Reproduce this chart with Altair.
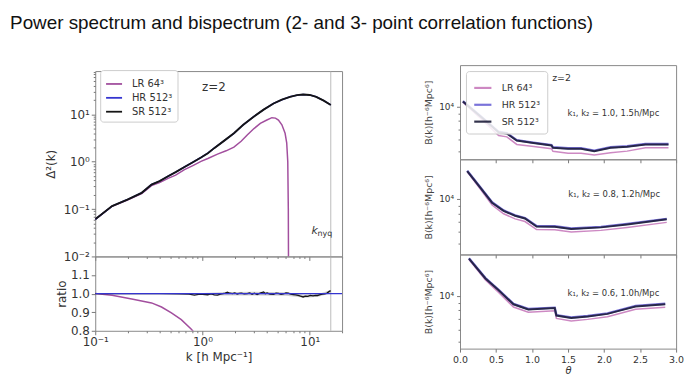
import altair as alt
import pandas as pd

FONT = "DejaVu Sans"
TITLE = "Power spectrum and bispectrum (2- and 3- point correlation functions)"
SERIES = ["LR 64³", "HR 512³", "SR 512³"]
LEFT_COLORS = ["#a24f9e", "#3535d0", "#151515"]
RIGHT_COLORS = ["#c87cbc", "#6c64d6", "#1e1e3a"]

# ---------------- power spectrum Δ²(k) ----------------
sr_k = [0.100, 0.1435, 0.1995, 0.271, 0.335, 0.398, 0.4775, 0.562, 0.679, 0.813, 0.968, 1.122, 1.285,
        1.585, 1.963, 2.399, 3.0, 3.715, 4.592, 5.495, 6.546, 7.586, 8.670, 10.0, 11.48, 13.49, 15.7]
sr_d = [0.0608, 0.1156, 0.1585, 0.2203, 0.3296, 0.389, 0.492, 0.603, 0.774, 0.977, 1.23, 1.514, 1.936,
        2.754, 3.98, 6.03, 8.91, 12.59, 16.98, 20.42, 23.44, 25.41, 26.30, 25.70, 23.44, 19.50, 15.8]
hr_k = [0.100, 0.1435, 0.1995, 0.271, 0.335, 0.398, 0.4775, 0.562, 0.679, 0.813, 0.968, 1.122, 1.285,
        1.585, 1.963, 2.399, 3.0, 3.715, 4.592, 5.495, 6.546, 7.586, 8.670, 10.0, 11.48, 13.49, 15.7]
hr_d = [0.0608, 0.1156, 0.1585, 0.2203, 0.3296, 0.389, 0.492, 0.603, 0.774, 0.977, 1.23, 1.514, 1.936,
        2.754, 3.98, 6.03, 8.91, 12.59, 16.98, 20.42, 23.44, 25.41, 26.30, 25.70, 23.44, 19.50, 15.8]
lr_k = [0.100, 0.1435, 0.1995, 0.271, 0.335, 0.398, 0.4775, 0.562, 0.679, 0.813, 0.968, 1.122, 1.380,
        1.660, 1.963, 2.291, 2.612, 3.020, 3.459, 3.981, 4.436, 4.786, 5.105, 5.495, 5.888, 6.095, 6.237,
        6.310, 6.353]
lr_d = [0.0607, 0.1146, 0.155, 0.213, 0.313, 0.362, 0.445, 0.52, 0.679, 0.83, 1.014, 1.17, 1.449,
        1.70, 2.032, 2.70, 3.68, 5.01, 6.46, 7.59, 8.51, 8.32, 7.59, 6.03, 3.98, 2.51, 1.0,
        0.1, 0.001]
K_NYQ = [15.7]

# ---------------- ratio panel ----------------
lrr_k = [0.100, 0.1435, 0.219, 0.335, 0.415, 0.513, 0.634, 0.783, 0.839, 0.87]
lrr_v = [1.0, 0.991, 0.971, 0.95, 0.928, 0.896, 0.86, 0.81, 0.79, 0.76]
hrr_k = [0.1, 20.0]
hrr_v = [1.0, 1.0]
srr_k = [0.1, 0.2, 0.4, 0.6, 0.75, 0.84, 0.92, 1.0, 1.117, 1.2,
         1.29, 1.38, 1.47, 1.55, 1.63, 1.706, 1.8, 1.9, 2.0, 2.109,
         2.2, 2.3, 2.45, 2.612, 2.75, 2.9, 3.05, 3.228, 3.45, 3.715,
         3.85, 4.0, 4.25, 4.592, 4.85, 5.1, 5.4, 5.675, 6.0, 6.3,
         6.65, 7.015, 7.4, 7.8, 8.2, 8.67, 9.1, 9.6, 10.1, 10.72,
         11.3, 11.8, 12.5, 13.18, 13.8, 14.5, 15.28, 15.7]
srr_v = [1.0, 1.0, 1.0, 0.999, 0.997, 0.992, 0.996, 0.996, 0.994, 0.998,
         0.993, 0.992, 0.997, 1.0, 1.003, 1.008, 1.002, 1.0, 1.004, 0.998,
         1.001, 1.003, 0.999, 1.0, 1.004, 0.997, 1.002, 0.995, 1.003, 1.009,
         1.0, 1.004, 0.997, 0.996, 1.003, 1.001, 0.996, 0.998, 1.004, 1.002,
         0.997, 0.995, 0.993, 0.99, 0.986, 0.982, 0.986, 0.985, 0.99, 0.988,
         0.991, 0.99, 0.995, 0.997, 0.999, 1.003, 1.013, 1.015]
band_k = [0.8, 1.5, 3.0, 6.0, 9.0, 12.0, 15.7]
band_lo = [0.994, 0.99, 0.99, 0.988, 0.978, 0.983, 1.002]
band_hi = [1.0, 1.008, 1.01, 1.008, 0.994, 0.998, 1.02]

# ---------------- bispectrum panels ----------------
top_t = [0.04, 0.31, 0.536, 0.65, 0.788, 0.994, 1.27, 1.29, 1.50, 1.68, 1.864, 2.09, 2.32, 2.574, 2.894]
top_sr = [10800, 8375, 6714, 6577, 5902, 5702, 5470, 5284, 5200, 5200, 5012, 5284, 5358, 5559, 5559]
top_hr = [10850, 8420, 6760, 6620, 5940, 5740, 5510, 5320, 5240, 5240, 5050, 5320, 5400, 5600, 5600]
top_lr = [10700, 8130, 6383, 6250, 5559, 5408, 5200, 5000, 4842, 4842, 4713, 4887, 5012, 5284, 5284]

mid_t = [0.10, 0.284, 0.445, 0.605, 0.765, 0.902, 1.063, 1.315, 1.544, 1.956, 2.32, 2.87]
mid_sr = [15380, 11885, 9441, 8318, 7709, 7396, 6531, 6501, 6281, 6442, 6745, 7295]
mid_hr = [15450, 11950, 9500, 8370, 7760, 7440, 6580, 6550, 6330, 6490, 6800, 7350]
mid_lr = [15200, 11600, 9100, 7950, 7350, 7050, 6230, 6200, 5990, 6150, 6440, 6960]

bot_t = [0.124, 0.353, 0.536, 0.742, 0.948, 1.315, 1.338, 1.544, 1.772, 2.047, 2.23, 2.437, 2.849]
bot_sr = [17500, 12970, 10860, 8770, 8110, 8279, 7396, 7129, 7295, 7586, 7998, 8492, 8770]
bot_hr = [17600, 13050, 10930, 8830, 8170, 8340, 7450, 7180, 7350, 7640, 8060, 8560, 8840]
bot_lr = [17300, 12700, 10500, 8420, 7780, 7950, 7080, 6820, 6980, 7260, 7650, 8130, 8400]

NOTES = ["k₁, k₂ = 1.0, 1.5h/Mpc", "k₁, k₂ = 0.8, 1.2h/Mpc", "k₁, k₂ = 0.6, 1.0h/Mpc"]
NOTE_T = [2.13, 2.14, 2.13]
NOTE_Y = [9080, 10800, 10420]
B_DOMAINS = [[4416, 18970], [4236, 18480], [4480, 18670]]


def frame(xs, ys, name=""):
    return pd.DataFrame({"x": xs, "y": ys, "s": [name] * len(xs)})


# ---------- axes ----------
K_MAJOR = [0.1, 1, 10]
K_MINOR = [0.2, 0.3, 0.4, 0.5, 0.6, 0.7, 0.8, 0.9, 2, 3, 4, 5, 6, 7, 8, 9, 20]
K_LABEL = "datum.value == 0.1 ? '10⁻¹' : datum.value == 1 ? '10⁰' : datum.value == 10 ? '10¹' : ''"
K_TEST = "datum.value == 0.1 || datum.value == 1 || datum.value == 10"

P_MAJOR = [0.01, 0.1, 1, 10]
P_MINOR = [0.02, 0.03, 0.04, 0.05, 0.06, 0.07, 0.08, 0.09, 0.2, 0.3, 0.4, 0.5, 0.6, 0.7, 0.8, 0.9,
           2, 3, 4, 5, 6, 7, 8, 9, 20, 30, 40, 50, 60, 70, 80]
P_LABEL = ("datum.value == 10 ? '10¹' : datum.value == 1 ? '10⁰' : datum.value == 0.1 ? '10⁻¹' : "
           "datum.value == 0.01 ? '10⁻²' : ''")
P_TEST = "datum.value == 10 || datum.value == 1 || datum.value == 0.1 || datum.value == 0.01"

xk_scale = alt.Scale(type="log", domain=[0.1, 20])
yp_scale = alt.Scale(type="log", domain=[0.01, 82])
yr_scale = alt.Scale(domain=[0.8, 1.2])

x_main_axis = alt.Axis(values=K_MAJOR + K_MINOR, labels=False, title=None,
                       tickSize={"condition": {"test": K_TEST, "value": 4}, "value": 2})
x_ratio_axis = alt.Axis(values=K_MAJOR + K_MINOR, labelExpr=K_LABEL, title="k [h Mpc⁻¹]",
                        labelFontSize=12, titleFontSize=12, labelFlush=False, labelOverlap=False,
                        labelPadding=2, titlePadding=4,
                        tickSize={"condition": {"test": K_TEST, "value": 4}, "value": 2})
y_main_axis = alt.Axis(values=P_MAJOR + P_MINOR, labelExpr=P_LABEL, title="Δ²(k)", labelFontSize=12,
                       titleFontSize=12, labelOverlap=False, labelPadding=2, titlePadding=6,
                       tickSize={"condition": {"test": P_TEST, "value": 4}, "value": 2})
y_ratio_axis = alt.Axis(values=[0.8, 0.9, 1.0, 1.1], format=".1f", title="ratio", labelFontSize=12,
                        titleFontSize=12, labelOverlap=False, labelPadding=2, titlePadding=2, tickSize=4)

left_legend = alt.Legend(title=None, orient="top-left", offset=5, symbolType="stroke", symbolSize=260,
                         symbolStrokeWidth=1.8, labelFontSize=10, labelFont=FONT, labelColor="#333",
                         strokeColor="#cccccc", fillColor="#ffffff", padding=5, cornerRadius=3,
                         rowPadding=0, labelOffset=9)
right_legend = alt.Legend(title=None, orient="top-left", offset=6, symbolType="stroke", symbolSize=300,
                          symbolStrokeWidth=2.2, labelFontSize=9.5, labelFont=FONT, labelColor="#333",
                          strokeColor="#cccccc", fillColor="rgba(255,255,255,0.85)", padding=7,
                          cornerRadius=3, rowPadding=2, labelOffset=9)

# ---------- left top: power spectrum ----------
def ps_layer(df, width):
    return alt.Chart(df).mark_line(strokeWidth=width, clip=True).encode(
        x=alt.X("x:Q", scale=xk_scale, axis=x_main_axis),
        y=alt.Y("y:Q", scale=yp_scale, axis=y_main_axis),
        color=alt.Color("s:N", scale=alt.Scale(domain=SERIES, range=LEFT_COLORS), legend=left_legend),
    )

nyq_df = pd.DataFrame({"x": K_NYQ})
nyq_main = alt.Chart(nyq_df).mark_rule(color="#aaaaaa", strokeWidth=0.8).encode(
    x=alt.X("x:Q", scale=xk_scale, axis=x_main_axis))
knyq_df = pd.DataFrame({"x": [10.4], "y": [0.034]})
knyq_k = alt.Chart(knyq_df).mark_text(text="k", font=FONT, fontSize=11, fontStyle="italic",
                                      align="left", color="#333").encode(
    x=alt.X("x:Q", scale=xk_scale, axis=x_main_axis), y=alt.Y("y:Q", scale=yp_scale, axis=y_main_axis))
knyq_sub = alt.Chart(knyq_df).mark_text(text="nyq", font=FONT, fontSize=8, align="left", dx=6, dy=3,
                                        color="#333").encode(
    x=alt.X("x:Q", scale=xk_scale, axis=x_main_axis), y=alt.Y("y:Q", scale=yp_scale, axis=y_main_axis))
z_df = pd.DataFrame({"x": [1.276], "y": [37.3]})
z_left = alt.Chart(z_df).mark_text(text="z=2", font=FONT, fontSize=12, color="#333").encode(
    x=alt.X("x:Q", scale=xk_scale, axis=x_main_axis), y=alt.Y("y:Q", scale=yp_scale, axis=y_main_axis))

main_panel = alt.layer(
    nyq_main,
    ps_layer(frame(lr_k, lr_d, SERIES[0]), 1.5),
    ps_layer(frame(hr_k, hr_d, SERIES[1]), 1.6),
    ps_layer(frame(sr_k, sr_d, SERIES[2]), 1.9),
    knyq_k, knyq_sub, z_left,
).properties(width=249, height=187)

# ---------- left bottom: ratio ----------
def ratio_line(df, color, width):
    return alt.Chart(df).mark_line(color=color, strokeWidth=width, clip=True).encode(
        x=alt.X("x:Q", scale=xk_scale, axis=x_ratio_axis),
        y=alt.Y("y:Q", scale=yr_scale, axis=y_ratio_axis))

band = alt.Chart(pd.DataFrame({"x": band_k, "lo": band_lo, "hi": band_hi})).mark_area(
    color="#bbbbbb", opacity=0.7, clip=True).encode(
    x=alt.X("x:Q", scale=xk_scale, axis=x_ratio_axis),
    y=alt.Y("lo:Q", scale=yr_scale, axis=y_ratio_axis), y2="hi:Q")
nyq_ratio = alt.Chart(nyq_df).mark_rule(color="#aaaaaa", strokeWidth=0.8).encode(
    x=alt.X("x:Q", scale=xk_scale, axis=x_ratio_axis))

ratio_panel = alt.layer(
    nyq_ratio,
    band,
    ratio_line(frame(lrr_k, lrr_v), LEFT_COLORS[0], 1.5),
    ratio_line(frame(srr_k, srr_v), LEFT_COLORS[2], 1.3),
    ratio_line(frame(hrr_k, hrr_v), LEFT_COLORS[1], 1.3),
).properties(width=249, height=75)

spacer = alt.Chart(pd.DataFrame({"x": [0]})).mark_point(opacity=0).encode(
    x=alt.X("x:Q", axis=None), y=alt.Y("x:Q", axis=None)
).properties(width=249, height=6, view=alt.ViewBackground(stroke=None))

left_col = alt.vconcat(spacer, main_panel, ratio_panel, spacing=0, bounds="flush").resolve_scale(
    x="independent", y="independent")

# ---------- right: bispectrum ----------
T_TICKS = [0.0, 0.5, 1.0, 1.5, 2.0, 2.5, 3.0]
B_VALUES = [5000, 6000, 7000, 8000, 9000, 10000]


def bis_panel(i, t, lr, hr, sr, height, legend, bottom):
    xs = alt.Scale(domain=[0, 3])
    ys = alt.Scale(type="log", domain=B_DOMAINS[i])
    if bottom:
        xa = alt.Axis(values=T_TICKS, format=".1f", title="θ", labelFontSize=9.5, titleFontSize=10,
                      titleFontStyle="italic", labelFlush=False, labelPadding=2, titlePadding=2,
                      tickSize=3.5)
    else:
        xa = alt.Axis(values=T_TICKS, labels=False, title=None, tickSize=3.5)
    ya = alt.Axis(values=B_VALUES, labelExpr="datum.value == 10000 ? '10⁴' : ''",
                  title="B(k)[h⁻⁶Mpc⁶]", labelFontSize=9, titleFontSize=9.5, labelPadding=3,
                  titlePadding=5, titleColor="#444444",
                  tickSize={"condition": {"test": "datum.value == 10000", "value": 3.5}, "value": 2})
    layers = []
    specs = [(lr, 0, 1.5), (hr, 1, 2.4), (sr, 2, 2.0)]
    for vals, j, w in specs:
        df = frame(t, vals, SERIES[j])
        if legend:
            enc_color = alt.Color("s:N", scale=alt.Scale(domain=SERIES, range=RIGHT_COLORS),
                                  legend=right_legend)
            layers.append(alt.Chart(df).mark_line(strokeWidth=w, clip=True, opacity=0.9).encode(
                x=alt.X("x:Q", scale=xs, axis=xa), y=alt.Y("y:Q", scale=ys, axis=ya), color=enc_color))
        else:
            layers.append(alt.Chart(df).mark_line(strokeWidth=w, clip=True, opacity=0.9,
                                                  color=RIGHT_COLORS[j]).encode(
                x=alt.X("x:Q", scale=xs, axis=xa), y=alt.Y("y:Q", scale=ys, axis=ya)))
    note_df = pd.DataFrame({"x": [NOTE_T[i]], "y": [NOTE_Y[i]], "txt": [NOTES[i]]})
    layers.append(alt.Chart(note_df).mark_text(font=FONT, fontSize=8.5, color="#333").encode(
        x=alt.X("x:Q", scale=xs, axis=xa), y=alt.Y("y:Q", scale=ys, axis=ya), text="txt:N"))
    if legend:
        zdf = pd.DataFrame({"x": [1.41], "y": [15530]})
        layers.append(alt.Chart(zdf).mark_text(text="z=2", font=FONT, fontSize=9.5, color="#333").encode(
            x=alt.X("x:Q", scale=xs, axis=xa), y=alt.Y("y:Q", scale=ys, axis=ya)))
    return alt.layer(*layers).properties(width=218, height=height)


top_panel = bis_panel(0, top_t, top_lr, top_hr, top_sr, 95, True, False)
mid_panel = bis_panel(1, mid_t, mid_lr, mid_hr, mid_sr, 96, False, False)
bot_panel = bis_panel(2, bot_t, bot_lr, bot_hr, bot_sr, 95, False, True)

right_col = alt.vconcat(top_panel, mid_panel, bot_panel, spacing=0, bounds="flush").resolve_scale(
    x="independent", y="independent", color="independent")

chart = alt.hconcat(left_col, right_col, spacing=80).resolve_scale(
    x="independent", y="independent", color="independent"
).resolve_legend(color="independent").properties(
    title=alt.TitleParams(TITLE, anchor="start", dx=-34, fontSize=19, font="Liberation Sans",
                          fontWeight="normal", color="#111111", offset=32),
    padding={"left": 2, "top": 4, "right": 4, "bottom": 0},
).configure_view(stroke="#888888", strokeWidth=1).configure_axis(
    domain=False, grid=False, labelFont=FONT, titleFont=FONT, labelColor="#333333",
    titleColor="#333333", tickColor="#777777", titleFontWeight="normal"
)

chart.save("out.html", embed_options={"renderer": "svg", "actions": False})
